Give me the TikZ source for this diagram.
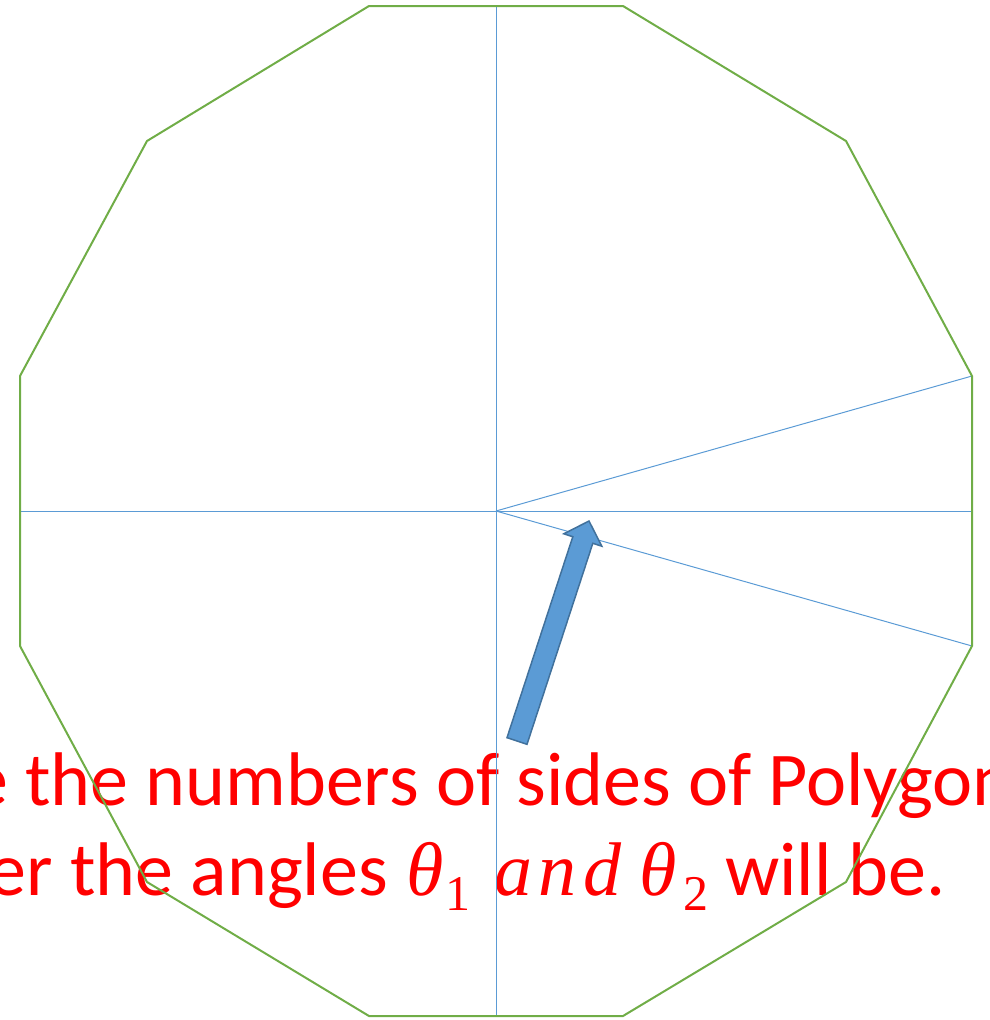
\documentclass[tikz,border=0pt]{standalone}
\usepackage{fontspec}
\setmainfont{Carlito}
\newfontfamily\mitfont{Liberation Serif}
\definecolor{polygreen}{HTML}{70AD47}
\definecolor{lineblue}{HTML}{5B9BD5}
\definecolor{arrowedge}{HTML}{41719C}
\definecolor{textred}{HTML}{FF0000}
\begin{document}
\begin{tikzpicture}[x=1pt,y=-1pt,
  poly/.style={draw=polygreen,line width=2pt,line join=miter},
  guide/.style={draw=lineblue,line width=1pt},
  blockarrow/.style={fill=lineblue,draw=arrowedge,line width=1.5pt,line join=miter},
  redtext/.style={text=textred,inner sep=0pt,font=\fontsize{76}{88}\selectfont},
  mathtext/.style={text=textred,inner sep=0pt,font=\fontsize{76}{88}\selectfont\mitfont\itshape},
  subtext/.style={text=textred,inner sep=0pt,font=\fontsize{50}{60}\selectfont\mitfont}]
\clip (0,0) rectangle (989,1020);
% text (below lines)
\node[redtext,anchor=base west] (line1) at (-30,805) {e the numbers of sides of Polygon};
\node[redtext,anchor=base east] (line2a) at (388,895) {er the angles};
\node[mathtext,anchor=base west] (th1) at (406,895) {θ};
\node[subtext,anchor=base west] (s1) at (445,910) {1};
\node[mathtext,anchor=base west,font=\fontsize{76}{88}\selectfont\mitfont\itshape\addfontfeature{LetterSpace=9}] (andw) at (494,895) {and};
\node[mathtext,anchor=base west] (th2) at (639,895) {θ};
\node[subtext,anchor=base west] (s2) at (683,910) {2};
\node[redtext,anchor=base east] (line2b) at (946,895) {will be.};
% polygon vertices
\coordinate (v1) at (369,6);
\coordinate (v2) at (623,6);
\coordinate (v3) at (846,141);
\coordinate (v4) at (972,376);
\coordinate (v5) at (972,646);
\coordinate (v6) at (846,882);
\coordinate (v7) at (623,1016);
\coordinate (v8) at (369,1016);
\coordinate (v9) at (147,882);
\coordinate (v10) at (20,646);
\coordinate (v11) at (20,376);
\coordinate (v12) at (147,141);
\coordinate (c) at (496,511);
\coordinate (top) at (496,6);
\coordinate (bot) at (496,1016);
\coordinate (lft) at (20,511);
\coordinate (rgt) at (972,511);
% guide lines
\draw[guide] (top) -- (bot);
\draw[guide] (lft) -- (rgt);
\draw[guide] (c) -- (v4);
\draw[guide] (c) -- (v5);
% polygon
\draw[poly] (v1) -- (v2) -- (v3) -- (v4) -- (v5) -- (v6) -- (v7) -- (v8) -- (v9) -- (v10) -- (v11) -- (v12) -- cycle;
% block arrow
\draw[blockarrow] (507,737.7) -- (572.8,536.7) -- (563.8,533.8) -- (589,521) -- (601.8,546.2) -- (592.8,543.3) -- (527,744.3) -- cycle;
\end{tikzpicture}
\end{document}
